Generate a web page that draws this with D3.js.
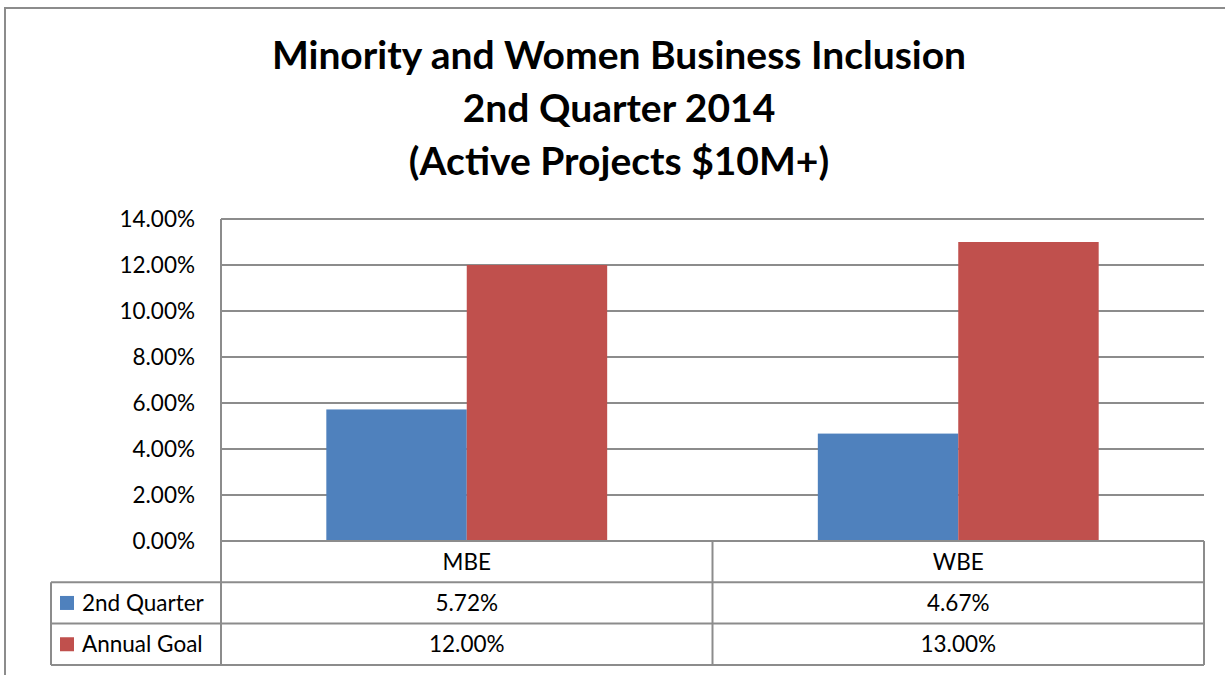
<!DOCTYPE html>
<html>
<head>
<meta charset="utf-8">
<script src="https://cdn.jsdelivr.net/npm/d3@7"></script>
<style>
  body { margin: 0; background: #fff; }
  text { font-family: Lato, "Open Sans", sans-serif; fill: #000; }
</style>
</head>
<body>
<div id="chart-area"></div>
<script>
const categories = ["MBE", "WBE"]
const seriesNames = ["2nd Quarter", "Annual Goal"]
const quarterValues = [0.0572, 0.0467]
const goalValues = [0.12, 0.13]
const yTicks = [0, 0.02, 0.04, 0.06, 0.08, 0.10, 0.12, 0.14]
const titleLines = ["Minority and Women Business Inclusion", "2nd Quarter 2014", "(Active Projects $10M+)"]

const COLORS = ["#4F81BD", "#C0504D"]
const GRID = "#8c8c8c"
const LABEL_SIZE = "22.5px"

const W = 1225, H = 675
const PLOT = { LEFT: 221, RIGHT: 1204, TOP: 219, BOTTOM: 541 }
const ROW_H = 41.3
const LEGEND_LEFT = 51

const svg = d3.select("#chart-area").append("svg")
    .attr("width", W)
    .attr("height", H)

// Outer chart border
svg.append("rect")
    .attr("x", 5).attr("y", 8)
    .attr("width", W + 20).attr("height", H + 20)
    .attr("fill", "none")
    .attr("stroke", "#8c8c8c")
    .attr("stroke-width", 2)

// Title
svg.append("text")
    .attr("x", 619)
    .attr("text-anchor", "middle")
    .attr("font-size", "39px")
    .attr("font-weight", "bold")
    .selectAll("tspan")
    .data(titleLines)
    .enter().append("tspan")
    .attr("x", 619)
    .attr("y", (d, i) => 69 + i * 53)
    .text(d => d)

// Scales
const x0 = d3.scaleBand()
    .domain(categories)
    .range([PLOT.LEFT, PLOT.RIGHT])

// gap width 150% of a bar: 0.75 bar on each side
const x1 = d3.scaleBand()
    .domain(seriesNames)
    .range([0, x0.bandwidth()])
    .paddingOuter(0.75)
    .paddingInner(0)

const y = d3.scaleLinear()
    .domain([0, 0.14])
    .range([PLOT.BOTTOM, PLOT.TOP])

// Gridlines
svg.append("g").selectAll("line")
    .data(yTicks)
    .enter().append("line")
    .attr("x1", PLOT.LEFT)
    .attr("x2", PLOT.RIGHT)
    .attr("y1", d => y(d))
    .attr("y2", d => y(d))
    .attr("stroke", GRID)
    .attr("stroke-width", 2)

// Y axis
const yAxisCall = d3.axisLeft(y)
    .tickValues(yTicks)
    .tickFormat(d3.format(".2%"))
    .tickSize(0)
    .tickPadding(26)
const yAxis = svg.append("g")
    .attr("transform", `translate(${PLOT.LEFT}, 0)`)
    .call(yAxisCall)
yAxis.select(".domain")
    .attr("stroke", GRID)
    .attr("stroke-width", 2)
    .attr("d", `M0,${PLOT.TOP}V${PLOT.BOTTOM + ROW_H}`)
yAxis.selectAll("text")
    .attr("font-size", LABEL_SIZE)
    .attr("fill", "#000")
    .style("font-family", "Lato, sans-serif")

// Bars
const rows = [quarterValues, goalValues]
const barData = []
categories.forEach((c, ci) => {
    seriesNames.forEach((s, si) => {
        barData.push({ cat: c, series: s, value: rows[si][ci], color: COLORS[si] })
    })
})

svg.append("g").selectAll("rect")
    .data(barData)
    .enter().append("rect")
    .attr("x", d => x0(d.cat) + x1(d.series))
    .attr("width", x1.bandwidth())
    .attr("y", d => y(d.value))
    .attr("height", d => y(0) - y(d.value))
    .attr("fill", d => d.color)

// Data table
const table = svg.append("g")
const tableBottom = PLOT.BOTTOM + ROW_H * 3

// horizontal lines
table.append("line")
    .attr("x1", PLOT.LEFT).attr("x2", PLOT.RIGHT)
    .attr("y1", PLOT.BOTTOM).attr("y2", PLOT.BOTTOM)
    .attr("stroke", GRID).attr("stroke-width", 2)
;[1, 2, 3].forEach(r => {
    table.append("line")
        .attr("x1", LEGEND_LEFT).attr("x2", PLOT.RIGHT)
        .attr("y1", PLOT.BOTTOM + ROW_H * r).attr("y2", PLOT.BOTTOM + ROW_H * r)
        .attr("stroke", GRID).attr("stroke-width", 2)
})
// vertical lines
table.append("line")
    .attr("x1", LEGEND_LEFT).attr("x2", LEGEND_LEFT)
    .attr("y1", PLOT.BOTTOM + ROW_H).attr("y2", tableBottom)
    .attr("stroke", GRID).attr("stroke-width", 2)
table.append("line")
    .attr("x1", PLOT.LEFT).attr("x2", PLOT.LEFT)
    .attr("y1", PLOT.BOTTOM).attr("y2", tableBottom)
    .attr("stroke", GRID).attr("stroke-width", 2)
categories.forEach(c => {
    const xr = x0(c) + x0.bandwidth()
    table.append("line")
        .attr("x1", xr).attr("x2", xr)
        .attr("y1", PLOT.BOTTOM).attr("y2", tableBottom)
        .attr("stroke", GRID).attr("stroke-width", 2)
})

// category header
table.selectAll(".cat")
    .data(categories)
    .enter().append("text")
    .attr("class", "cat")
    .attr("x", d => x0(d) + x0.bandwidth() / 2)
    .attr("y", PLOT.BOTTOM + ROW_H / 2)
    .attr("dy", "0.36em")
    .attr("text-anchor", "middle")
    .attr("font-size", LABEL_SIZE)
    .text(d => d)

// series rows
seriesNames.forEach((s, si) => {
    const rowY = PLOT.BOTTOM + ROW_H * (si + 1)
    table.append("rect")
        .attr("x", 60).attr("y", rowY + ROW_H / 2 - 7)
        .attr("width", 14).attr("height", 14)
        .attr("fill", COLORS[si])
    table.append("text")
        .attr("x", 82)
        .attr("y", rowY + ROW_H / 2)
        .attr("dy", "0.36em")
        .attr("font-size", LABEL_SIZE)
        .text(s)
    categories.forEach((c, ci) => {
        table.append("text")
            .attr("x", x0(c) + x0.bandwidth() / 2)
            .attr("y", rowY + ROW_H / 2)
            .attr("dy", "0.36em")
            .attr("text-anchor", "middle")
            .attr("font-size", LABEL_SIZE)
            .text(d3.format(".2%")(rows[si][ci]))
    })
})
</script>
</body>
</html>
